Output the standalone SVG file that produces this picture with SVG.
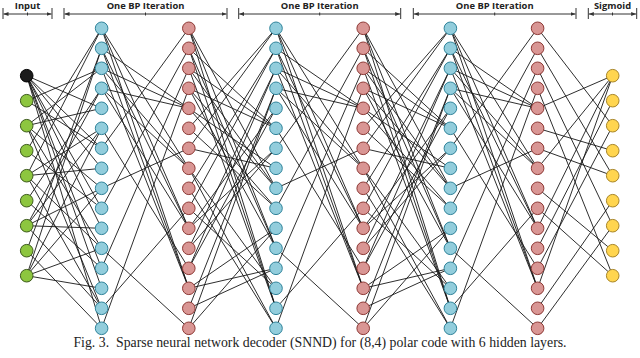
<svg xmlns="http://www.w3.org/2000/svg" width="640" height="358" viewBox="0 0 640 358">
<style>
.bg{fill:#ffffff}
.e{fill:none;stroke:#161616;stroke-width:0.9}
.hd{fill:none;stroke:#333333;stroke-width:1}
.tk{fill:none;stroke:#333333;stroke-width:1}
.lbl{font-family:"Open Sans","Noto Sans",sans-serif;font-weight:700;font-size:9.4px;fill:#222222;text-anchor:middle}
.cap{font-family:"Liberation Serif","Times New Roman",serif;font-size:13.8px;fill:#222222;text-anchor:middle;white-space:pre}
.n{stroke-width:1}
.blk{fill:#1c1c1c;stroke:#000000}
.grn{fill:#8DC63F;stroke:#3D5A1C}
.blu{fill:#92CDDC;stroke:#31849B}
.red{fill:#D99694;stroke:#8E3A36}
.yel{fill:#FFD54F;stroke:#A8862A}
</style>
<defs>
<marker id="ah" viewBox="0 0 5 4" refX="5" refY="2" markerWidth="5" markerHeight="4" markerUnits="userSpaceOnUse" orient="auto-start-reverse">
<path d="M0 0L5 2L0 4z" fill="#333333"/>
</marker>
</defs>
<rect class="bg" x="0" y="0" width="640" height="358"/>

<g id="header">
<g id="hdr-input">
<path class="tk" d="M3 8V19M52 8V19M27.5 12.5V15.5"/>
<path class="hd" d="M3.5 14H51.5" marker-start="url(#ah)" marker-end="url(#ah)"/>
<text class="lbl" x="27.5" y="8.6">Input</text>
</g>
<g id="hdr-bp1">
<path class="tk" d="M64 8V19M227 8V19M145.5 12.5V15.5"/>
<path class="hd" d="M64.5 14H226.5" marker-start="url(#ah)" marker-end="url(#ah)"/>
<text class="lbl" x="145.5" y="8.6">One BP Iteration</text>
</g>
<g id="hdr-bp2">
<path class="tk" d="M238.7 8V19M400.7 8V19M319.7 12.5V15.5"/>
<path class="hd" d="M239.2 14H400.2" marker-start="url(#ah)" marker-end="url(#ah)"/>
<text class="lbl" x="319.7" y="8.6">One BP Iteration</text>
</g>
<g id="hdr-bp3">
<path class="tk" d="M413.3 8V19M576 8V19M494.7 12.5V15.5"/>
<path class="hd" d="M413.8 14H575.5" marker-start="url(#ah)" marker-end="url(#ah)"/>
<text class="lbl" x="494.7" y="8.6">One BP Iteration</text>
</g>
<g id="hdr-sigmoid">
<path class="tk" d="M588.3 8V19M636.7 8V19M612.5 12.5V15.5"/>
<path class="hd" d="M588.8 14H636.2" marker-start="url(#ah)" marker-end="url(#ah)"/>
<text class="lbl" x="612.5" y="8.6">Sigmoid</text>
</g>
</g>

<g id="connectors">
<g id="c-in-b1">
<path class="e" d="M26.7 75.7L101.6 108.3M26.7 75.7L101.6 148.3M26.7 75.7L101.6 168.3M26.7 75.7L101.6 208.3M26.7 75.7L101.6 228.3M26.7 75.7L101.6 268.3M26.7 75.7L101.6 288.3M26.7 75.7L101.6 328.3"/>
<path class="e" d="M26.7 100.7L101.6 68.3M26.7 100.7L101.6 148.3"/>
<path class="e" d="M26.7 125.7L101.6 68.3M26.7 125.7L101.6 108.3M26.7 125.7L101.6 188.3M26.7 125.7L101.6 248.3M26.7 125.7L101.6 308.3"/>
<path class="e" d="M26.7 150.7L101.6 28.3M26.7 150.7L101.6 208.3"/>
<path class="e" d="M26.7 175.7L101.6 28.3M26.7 175.7L101.6 128.3M26.7 175.7L101.6 168.3M26.7 175.7L101.6 248.3M26.7 175.7L101.6 308.3"/>
<path class="e" d="M26.7 200.7L101.6 88.3M26.7 200.7L101.6 268.3"/>
<path class="e" d="M26.7 225.7L101.6 88.3M26.7 225.7L101.6 128.3M26.7 225.7L101.6 188.3M26.7 225.7L101.6 228.3M26.7 225.7L101.6 308.3"/>
<path class="e" d="M26.7 250.7L101.6 48.3M26.7 250.7L101.6 328.3"/>
<path class="e" d="M26.7 275.7L101.6 48.3M26.7 275.7L101.6 128.3M26.7 275.7L101.6 188.3M26.7 275.7L101.6 248.3M26.7 275.7L101.6 288.3"/>
</g>
<g id="c-b1-r1">
<path class="e" d="M101.6 28.3L188.8 168.3M101.6 28.3L188.8 228.3M101.6 28.3L188.8 288.3M101.6 48.3L188.8 108.3M101.6 48.3L188.8 228.3M101.6 48.3L188.8 288.3M101.6 68.3L188.8 108.3M101.6 68.3L188.8 168.3M101.6 68.3L188.8 288.3M101.6 88.3L188.8 108.3M101.6 88.3L188.8 168.3M101.6 88.3L188.8 228.3"/>
<path class="e" d="M101.6 128.3L188.8 268.3M101.6 148.3L188.8 28.3M101.6 188.3L188.8 148.3M101.6 208.3L188.8 48.3M101.6 248.3L188.8 328.3M101.6 268.3L188.8 68.3M101.6 308.3L188.8 208.3M101.6 328.3L188.8 88.3"/>
</g>
<g id="c-r1-b2">
<path class="e" d="M188.8 28.3L276 188.3M188.8 28.3L276 248.3M188.8 28.3L276 308.3M188.8 48.3L276 128.3M188.8 48.3L276 248.3M188.8 48.3L276 308.3M188.8 68.3L276 128.3M188.8 68.3L276 188.3M188.8 68.3L276 308.3M188.8 88.3L276 128.3M188.8 88.3L276 188.3M188.8 88.3L276 248.3"/>
<path class="e" d="M188.8 108.3L276 168.3M188.8 108.3L276 208.3M188.8 128.3L276 28.3M188.8 128.3L276 208.3M188.8 148.3L276 28.3M188.8 148.3L276 168.3M188.8 168.3L276 288.3M188.8 168.3L276 328.3M188.8 188.3L276 48.3M188.8 188.3L276 328.3M188.8 208.3L276 48.3M188.8 208.3L276 288.3"/>
<path class="e" d="M188.8 228.3L276 108.3M188.8 228.3L276 148.3M188.8 248.3L276 68.3M188.8 248.3L276 148.3M188.8 268.3L276 68.3M188.8 268.3L276 108.3M188.8 288.3L276 228.3M188.8 288.3L276 268.3M188.8 308.3L276 88.3M188.8 308.3L276 268.3M188.8 328.3L276 88.3M188.8 328.3L276 228.3"/>
</g>
<g id="c-b2-r2">
<path class="e" d="M276 28.3L363.2 168.3M276 28.3L363.2 228.3M276 28.3L363.2 288.3M276 48.3L363.2 108.3M276 48.3L363.2 228.3M276 48.3L363.2 288.3M276 68.3L363.2 108.3M276 68.3L363.2 168.3M276 68.3L363.2 288.3M276 88.3L363.2 108.3M276 88.3L363.2 168.3M276 88.3L363.2 228.3"/>
<path class="e" d="M276 128.3L363.2 268.3M276 148.3L363.2 28.3M276 188.3L363.2 148.3M276 208.3L363.2 48.3M276 248.3L363.2 328.3M276 268.3L363.2 68.3M276 308.3L363.2 208.3M276 328.3L363.2 88.3"/>
</g>
<g id="c-r2-b3">
<path class="e" d="M363.2 28.3L450.4 188.3M363.2 28.3L450.4 248.3M363.2 28.3L450.4 308.3M363.2 48.3L450.4 128.3M363.2 48.3L450.4 248.3M363.2 48.3L450.4 308.3M363.2 68.3L450.4 128.3M363.2 68.3L450.4 188.3M363.2 68.3L450.4 308.3M363.2 88.3L450.4 128.3M363.2 88.3L450.4 188.3M363.2 88.3L450.4 248.3"/>
<path class="e" d="M363.2 108.3L450.4 168.3M363.2 108.3L450.4 208.3M363.2 128.3L450.4 28.3M363.2 128.3L450.4 208.3M363.2 148.3L450.4 28.3M363.2 148.3L450.4 168.3M363.2 168.3L450.4 288.3M363.2 168.3L450.4 328.3M363.2 188.3L450.4 48.3M363.2 188.3L450.4 328.3M363.2 208.3L450.4 48.3M363.2 208.3L450.4 288.3"/>
<path class="e" d="M363.2 228.3L450.4 108.3M363.2 228.3L450.4 148.3M363.2 248.3L450.4 68.3M363.2 248.3L450.4 148.3M363.2 268.3L450.4 68.3M363.2 268.3L450.4 108.3M363.2 288.3L450.4 228.3M363.2 288.3L450.4 268.3M363.2 308.3L450.4 88.3M363.2 308.3L450.4 268.3M363.2 328.3L450.4 88.3M363.2 328.3L450.4 228.3"/>
</g>
<g id="c-b3-r3">
<path class="e" d="M450.4 28.3L537.6 168.3M450.4 28.3L537.6 228.3M450.4 28.3L537.6 288.3M450.4 48.3L537.6 108.3M450.4 48.3L537.6 228.3M450.4 48.3L537.6 288.3M450.4 68.3L537.6 108.3M450.4 68.3L537.6 168.3M450.4 68.3L537.6 288.3M450.4 88.3L537.6 108.3M450.4 88.3L537.6 168.3M450.4 88.3L537.6 228.3"/>
<path class="e" d="M450.4 128.3L537.6 268.3M450.4 148.3L537.6 28.3M450.4 188.3L537.6 148.3M450.4 208.3L537.6 48.3M450.4 248.3L537.6 328.3M450.4 268.3L537.6 68.3M450.4 308.3L537.6 208.3M450.4 328.3L537.6 88.3"/>
</g>
<g id="c-r3-out">
<path class="e" d="M537.6 28.3L612.7 125.7M537.6 48.3L612.7 175.7M537.6 68.3L612.7 225.7M537.6 88.3L612.7 275.7M537.6 108.3L612.7 75.7M537.6 128.3L612.7 150.7M537.6 148.3L612.7 175.7M537.6 168.3L612.7 75.7M537.6 188.3L612.7 250.7M537.6 208.3L612.7 275.7M537.6 228.3L612.7 75.7M537.6 248.3L612.7 100.7M537.6 268.3L612.7 125.7M537.6 288.3L612.7 75.7M537.6 308.3L612.7 200.7M537.6 328.3L612.7 225.7"/>
</g>
</g>

<g id="nodes">
<g id="input-layer">
<g id="in0"><circle class="n blk" cx="26.7" cy="75.7" r="6.3"/></g>
<g id="in1"><circle class="n grn" cx="26.7" cy="100.7" r="6.3"/></g>
<g id="in2"><circle class="n grn" cx="26.7" cy="125.7" r="6.3"/></g>
<g id="in3"><circle class="n grn" cx="26.7" cy="150.7" r="6.3"/></g>
<g id="in4"><circle class="n grn" cx="26.7" cy="175.7" r="6.3"/></g>
<g id="in5"><circle class="n grn" cx="26.7" cy="200.7" r="6.3"/></g>
<g id="in6"><circle class="n grn" cx="26.7" cy="225.7" r="6.3"/></g>
<g id="in7"><circle class="n grn" cx="26.7" cy="250.7" r="6.3"/></g>
<g id="in8"><circle class="n grn" cx="26.7" cy="275.7" r="6.3"/></g>
</g>
<g id="hidden1">
<g id="h1-0"><circle class="n blu" cx="101.6" cy="28.3" r="6.3"/></g>
<g id="h1-1"><circle class="n blu" cx="101.6" cy="48.3" r="6.3"/></g>
<g id="h1-2"><circle class="n blu" cx="101.6" cy="68.3" r="6.3"/></g>
<g id="h1-3"><circle class="n blu" cx="101.6" cy="88.3" r="6.3"/></g>
<g id="h1-4"><circle class="n blu" cx="101.6" cy="108.3" r="6.3"/></g>
<g id="h1-5"><circle class="n blu" cx="101.6" cy="128.3" r="6.3"/></g>
<g id="h1-6"><circle class="n blu" cx="101.6" cy="148.3" r="6.3"/></g>
<g id="h1-7"><circle class="n blu" cx="101.6" cy="168.3" r="6.3"/></g>
<g id="h1-8"><circle class="n blu" cx="101.6" cy="188.3" r="6.3"/></g>
<g id="h1-9"><circle class="n blu" cx="101.6" cy="208.3" r="6.3"/></g>
<g id="h1-10"><circle class="n blu" cx="101.6" cy="228.3" r="6.3"/></g>
<g id="h1-11"><circle class="n blu" cx="101.6" cy="248.3" r="6.3"/></g>
<g id="h1-12"><circle class="n blu" cx="101.6" cy="268.3" r="6.3"/></g>
<g id="h1-13"><circle class="n blu" cx="101.6" cy="288.3" r="6.3"/></g>
<g id="h1-14"><circle class="n blu" cx="101.6" cy="308.3" r="6.3"/></g>
<g id="h1-15"><circle class="n blu" cx="101.6" cy="328.3" r="6.3"/></g>
</g>
<g id="hidden2">
<g id="h2-0"><circle class="n red" cx="188.8" cy="28.3" r="6.3"/></g>
<g id="h2-1"><circle class="n red" cx="188.8" cy="48.3" r="6.3"/></g>
<g id="h2-2"><circle class="n red" cx="188.8" cy="68.3" r="6.3"/></g>
<g id="h2-3"><circle class="n red" cx="188.8" cy="88.3" r="6.3"/></g>
<g id="h2-4"><circle class="n red" cx="188.8" cy="108.3" r="6.3"/></g>
<g id="h2-5"><circle class="n red" cx="188.8" cy="128.3" r="6.3"/></g>
<g id="h2-6"><circle class="n red" cx="188.8" cy="148.3" r="6.3"/></g>
<g id="h2-7"><circle class="n red" cx="188.8" cy="168.3" r="6.3"/></g>
<g id="h2-8"><circle class="n red" cx="188.8" cy="188.3" r="6.3"/></g>
<g id="h2-9"><circle class="n red" cx="188.8" cy="208.3" r="6.3"/></g>
<g id="h2-10"><circle class="n red" cx="188.8" cy="228.3" r="6.3"/></g>
<g id="h2-11"><circle class="n red" cx="188.8" cy="248.3" r="6.3"/></g>
<g id="h2-12"><circle class="n red" cx="188.8" cy="268.3" r="6.3"/></g>
<g id="h2-13"><circle class="n red" cx="188.8" cy="288.3" r="6.3"/></g>
<g id="h2-14"><circle class="n red" cx="188.8" cy="308.3" r="6.3"/></g>
<g id="h2-15"><circle class="n red" cx="188.8" cy="328.3" r="6.3"/></g>
</g>
<g id="hidden3">
<g id="h3-0"><circle class="n blu" cx="276" cy="28.3" r="6.3"/></g>
<g id="h3-1"><circle class="n blu" cx="276" cy="48.3" r="6.3"/></g>
<g id="h3-2"><circle class="n blu" cx="276" cy="68.3" r="6.3"/></g>
<g id="h3-3"><circle class="n blu" cx="276" cy="88.3" r="6.3"/></g>
<g id="h3-4"><circle class="n blu" cx="276" cy="108.3" r="6.3"/></g>
<g id="h3-5"><circle class="n blu" cx="276" cy="128.3" r="6.3"/></g>
<g id="h3-6"><circle class="n blu" cx="276" cy="148.3" r="6.3"/></g>
<g id="h3-7"><circle class="n blu" cx="276" cy="168.3" r="6.3"/></g>
<g id="h3-8"><circle class="n blu" cx="276" cy="188.3" r="6.3"/></g>
<g id="h3-9"><circle class="n blu" cx="276" cy="208.3" r="6.3"/></g>
<g id="h3-10"><circle class="n blu" cx="276" cy="228.3" r="6.3"/></g>
<g id="h3-11"><circle class="n blu" cx="276" cy="248.3" r="6.3"/></g>
<g id="h3-12"><circle class="n blu" cx="276" cy="268.3" r="6.3"/></g>
<g id="h3-13"><circle class="n blu" cx="276" cy="288.3" r="6.3"/></g>
<g id="h3-14"><circle class="n blu" cx="276" cy="308.3" r="6.3"/></g>
<g id="h3-15"><circle class="n blu" cx="276" cy="328.3" r="6.3"/></g>
</g>
<g id="hidden4">
<g id="h4-0"><circle class="n red" cx="363.2" cy="28.3" r="6.3"/></g>
<g id="h4-1"><circle class="n red" cx="363.2" cy="48.3" r="6.3"/></g>
<g id="h4-2"><circle class="n red" cx="363.2" cy="68.3" r="6.3"/></g>
<g id="h4-3"><circle class="n red" cx="363.2" cy="88.3" r="6.3"/></g>
<g id="h4-4"><circle class="n red" cx="363.2" cy="108.3" r="6.3"/></g>
<g id="h4-5"><circle class="n red" cx="363.2" cy="128.3" r="6.3"/></g>
<g id="h4-6"><circle class="n red" cx="363.2" cy="148.3" r="6.3"/></g>
<g id="h4-7"><circle class="n red" cx="363.2" cy="168.3" r="6.3"/></g>
<g id="h4-8"><circle class="n red" cx="363.2" cy="188.3" r="6.3"/></g>
<g id="h4-9"><circle class="n red" cx="363.2" cy="208.3" r="6.3"/></g>
<g id="h4-10"><circle class="n red" cx="363.2" cy="228.3" r="6.3"/></g>
<g id="h4-11"><circle class="n red" cx="363.2" cy="248.3" r="6.3"/></g>
<g id="h4-12"><circle class="n red" cx="363.2" cy="268.3" r="6.3"/></g>
<g id="h4-13"><circle class="n red" cx="363.2" cy="288.3" r="6.3"/></g>
<g id="h4-14"><circle class="n red" cx="363.2" cy="308.3" r="6.3"/></g>
<g id="h4-15"><circle class="n red" cx="363.2" cy="328.3" r="6.3"/></g>
</g>
<g id="hidden5">
<g id="h5-0"><circle class="n blu" cx="450.4" cy="28.3" r="6.3"/></g>
<g id="h5-1"><circle class="n blu" cx="450.4" cy="48.3" r="6.3"/></g>
<g id="h5-2"><circle class="n blu" cx="450.4" cy="68.3" r="6.3"/></g>
<g id="h5-3"><circle class="n blu" cx="450.4" cy="88.3" r="6.3"/></g>
<g id="h5-4"><circle class="n blu" cx="450.4" cy="108.3" r="6.3"/></g>
<g id="h5-5"><circle class="n blu" cx="450.4" cy="128.3" r="6.3"/></g>
<g id="h5-6"><circle class="n blu" cx="450.4" cy="148.3" r="6.3"/></g>
<g id="h5-7"><circle class="n blu" cx="450.4" cy="168.3" r="6.3"/></g>
<g id="h5-8"><circle class="n blu" cx="450.4" cy="188.3" r="6.3"/></g>
<g id="h5-9"><circle class="n blu" cx="450.4" cy="208.3" r="6.3"/></g>
<g id="h5-10"><circle class="n blu" cx="450.4" cy="228.3" r="6.3"/></g>
<g id="h5-11"><circle class="n blu" cx="450.4" cy="248.3" r="6.3"/></g>
<g id="h5-12"><circle class="n blu" cx="450.4" cy="268.3" r="6.3"/></g>
<g id="h5-13"><circle class="n blu" cx="450.4" cy="288.3" r="6.3"/></g>
<g id="h5-14"><circle class="n blu" cx="450.4" cy="308.3" r="6.3"/></g>
<g id="h5-15"><circle class="n blu" cx="450.4" cy="328.3" r="6.3"/></g>
</g>
<g id="hidden6">
<g id="h6-0"><circle class="n red" cx="537.6" cy="28.3" r="6.3"/></g>
<g id="h6-1"><circle class="n red" cx="537.6" cy="48.3" r="6.3"/></g>
<g id="h6-2"><circle class="n red" cx="537.6" cy="68.3" r="6.3"/></g>
<g id="h6-3"><circle class="n red" cx="537.6" cy="88.3" r="6.3"/></g>
<g id="h6-4"><circle class="n red" cx="537.6" cy="108.3" r="6.3"/></g>
<g id="h6-5"><circle class="n red" cx="537.6" cy="128.3" r="6.3"/></g>
<g id="h6-6"><circle class="n red" cx="537.6" cy="148.3" r="6.3"/></g>
<g id="h6-7"><circle class="n red" cx="537.6" cy="168.3" r="6.3"/></g>
<g id="h6-8"><circle class="n red" cx="537.6" cy="188.3" r="6.3"/></g>
<g id="h6-9"><circle class="n red" cx="537.6" cy="208.3" r="6.3"/></g>
<g id="h6-10"><circle class="n red" cx="537.6" cy="228.3" r="6.3"/></g>
<g id="h6-11"><circle class="n red" cx="537.6" cy="248.3" r="6.3"/></g>
<g id="h6-12"><circle class="n red" cx="537.6" cy="268.3" r="6.3"/></g>
<g id="h6-13"><circle class="n red" cx="537.6" cy="288.3" r="6.3"/></g>
<g id="h6-14"><circle class="n red" cx="537.6" cy="308.3" r="6.3"/></g>
<g id="h6-15"><circle class="n red" cx="537.6" cy="328.3" r="6.3"/></g>
</g>
<g id="output-layer">
<g id="out0"><circle class="n yel" cx="612.7" cy="75.7" r="6.3"/></g>
<g id="out1"><circle class="n yel" cx="612.7" cy="100.7" r="6.3"/></g>
<g id="out2"><circle class="n yel" cx="612.7" cy="125.7" r="6.3"/></g>
<g id="out3"><circle class="n yel" cx="612.7" cy="150.7" r="6.3"/></g>
<g id="out4"><circle class="n yel" cx="612.7" cy="175.7" r="6.3"/></g>
<g id="out5"><circle class="n yel" cx="612.7" cy="200.7" r="6.3"/></g>
<g id="out6"><circle class="n yel" cx="612.7" cy="225.7" r="6.3"/></g>
<g id="out7"><circle class="n yel" cx="612.7" cy="250.7" r="6.3"/></g>
<g id="out8"><circle class="n yel" cx="612.7" cy="275.7" r="6.3"/></g>
</g>
</g>

<text class="cap" x="320" y="347" xml:space="preserve">Fig. 3.  Sparse neural network decoder (SNND) for (8,4) polar code with 6 hidden layers.</text>
</svg>
